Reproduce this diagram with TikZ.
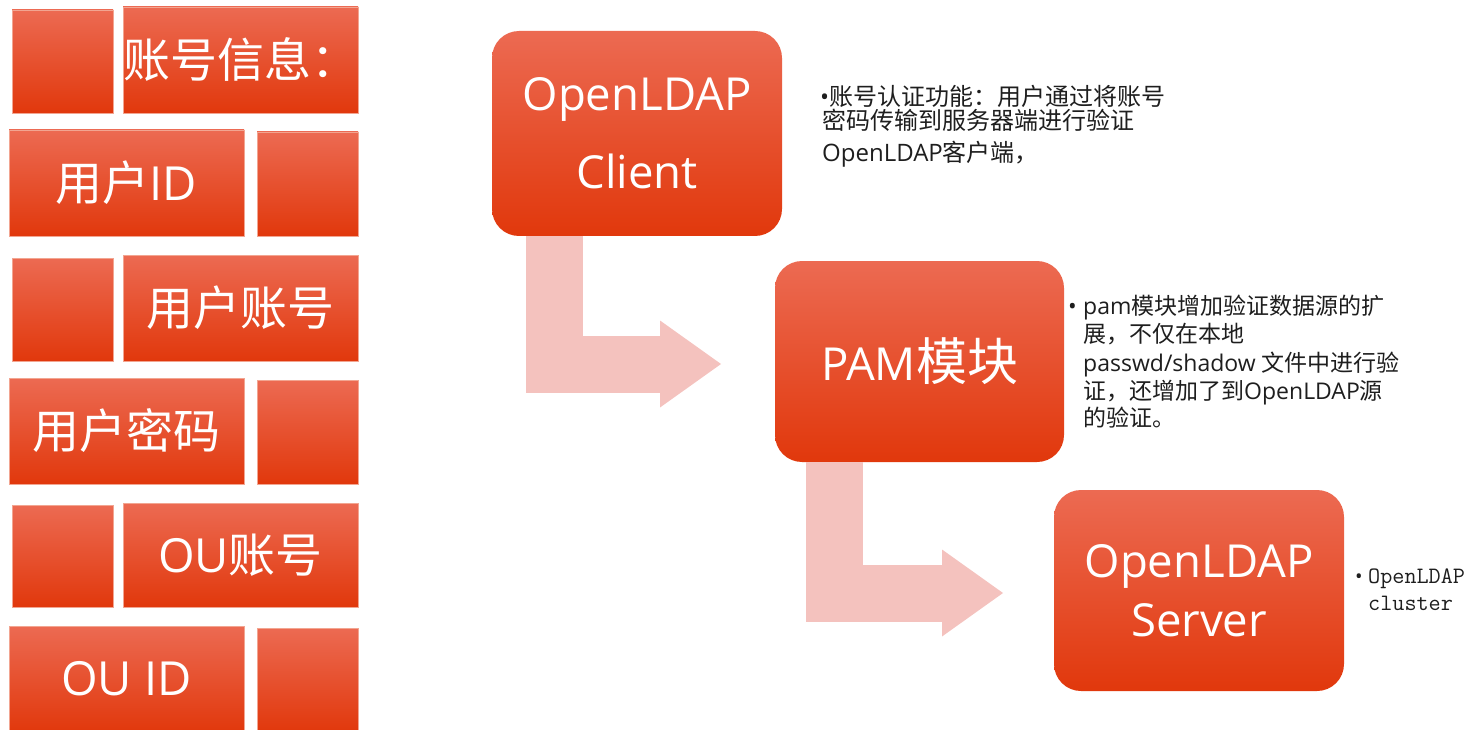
\documentclass[tikz,border=0pt]{standalone}
\usepackage{fontspec}
\setmainfont{Open Sans}
\newfontfamily\cjk{Noto Sans CJK SC}
\usetikzlibrary{arrows.meta}
\definecolor{gtop}{RGB}{236,106,82}
\definecolor{gmid}{RGB}{242,76,30}
\definecolor{gbot}{RGB}{225,56,12}
\definecolor{edgec}{RGB}{242,165,145}
\definecolor{flowc}{RGB}{244,194,190}
\definecolor{txt}{RGB}{30,30,30}
\begin{document}
\begin{tikzpicture}[x=1pt,y=-1pt,
  gbox/.style={rectangle, inner sep=0pt, outer sep=0pt, top color=gtop, middle color=gmid, bottom color=gbot, text=white, anchor=north west},
  lbox/.style={gbox, draw=edgec, line width=0.6pt, font=\fontsize{47}{47}\selectfont},
  rbox/.style={gbox, rounded corners=27pt, font=\fontsize{45.5}{78}\selectfont, align=center},
  flow/.style={draw=flowc, line width=57pt, -{Triangle[length=61pt,width=87pt,line width=0pt]}},
  sidetxt/.style={anchor=base west, inner sep=0pt, text=txt, font=\fontsize{24}{24}\selectfont},
  pamtxt/.style={sidetxt, font=\fontsize{23}{23}\selectfont},
  clutxt/.style={sidetxt, font=\fontsize{23.5}{23.5}\ttfamily}]
\useasboundingbox (0,0) rectangle (1475,730);
% left column
\node[lbox, minimum width=101pt, minimum height=103pt] (b1a) at (12,10) {};
\node[lbox, minimum width=235pt, minimum height=106pt] (b1b) at (123,7) {\cjk 账号信息：};
\node[lbox, minimum width=235pt, minimum height=106pt] (b2a) at (9,130) {{\cjk 用户}ID};
\node[lbox, minimum width=101pt, minimum height=104pt] (b2b) at (257,132) {};
\node[lbox, minimum width=101pt, minimum height=103pt] (b3a) at (12,258) {};
\node[lbox, minimum width=235pt, minimum height=106pt] (b3b) at (123,255) {\cjk 用户账号};
\node[lbox, minimum width=235pt, minimum height=106pt] (b4a) at (9,378) {\cjk 用户密码};
\node[lbox, minimum width=101pt, minimum height=104pt] (b4b) at (257,380) {};
\node[lbox, minimum width=101pt, minimum height=102pt] (b5a) at (12,505) {};
\node[lbox, minimum width=235pt, minimum height=104pt] (b5b) at (123,503) {OU{\cjk 账号}};
\node[lbox, minimum width=235pt, minimum height=106pt] (b6a) at (9,626) {OU ID};
\node[lbox, minimum width=101pt, minimum height=104pt] (b6b) at (257,628) {};
% right flow
\node[rbox, minimum width=290pt, minimum height=205pt] (client) at (492,31) {OpenLDAP\\Client};
\node[rbox, minimum width=289pt, minimum height=201pt] (pam) at (775,261) {PAM{\cjk\fontsize{51}{51}\selectfont 模块}};
\node[rbox, minimum width=290pt, minimum height=201pt, font=\fontsize{45.5}{59}\selectfont] (server) at (1054,490) {OpenLDAP\\Server};
\draw[flow] ([xshift=-82.5pt]client.south) |- ([xshift=-54pt,yshift=-2.5pt]pam.west);
\draw[flow] ([xshift=-85pt]pam.south) |- ([xshift=-51pt,yshift=-2.5pt]server.west);
% side texts
\node[sidetxt] (c1) at (820,106) {•{\cjk 账号认证功能：用户通过将账号}};
\node[sidetxt] (c2) at (822,130) {\cjk 密码传输到服务器端进行验证};
\node[sidetxt] (c3) at (822,162) {OpenLDAP{\cjk 客户端，}};
\node[pamtxt] (p1) at (1068,314) {\makebox[15pt][l]{•}pam{\cjk 模块增加验证数据源的扩}};
\node[pamtxt] (p2) at (1083,342) {\cjk 展，不仅在本地};
\node[pamtxt] (p3) at (1083,371) {passwd/shadow {\cjk 文件中进行验}};
\node[pamtxt] (p4) at (1083,399) {{\cjk 证，还增加了到}OpenLDAP{\cjk 源}};
\node[pamtxt] (p5) at (1083,426) {\cjk 的验证。};
\node[clutxt] (s1) at (1355,583) {\makebox[13pt][l]{\rmfamily\fontsize{20}{20}\selectfont •}OpenLDAP};
\node[clutxt] (s2) at (1368,610) {cluster};
\end{tikzpicture}
\end{document}
